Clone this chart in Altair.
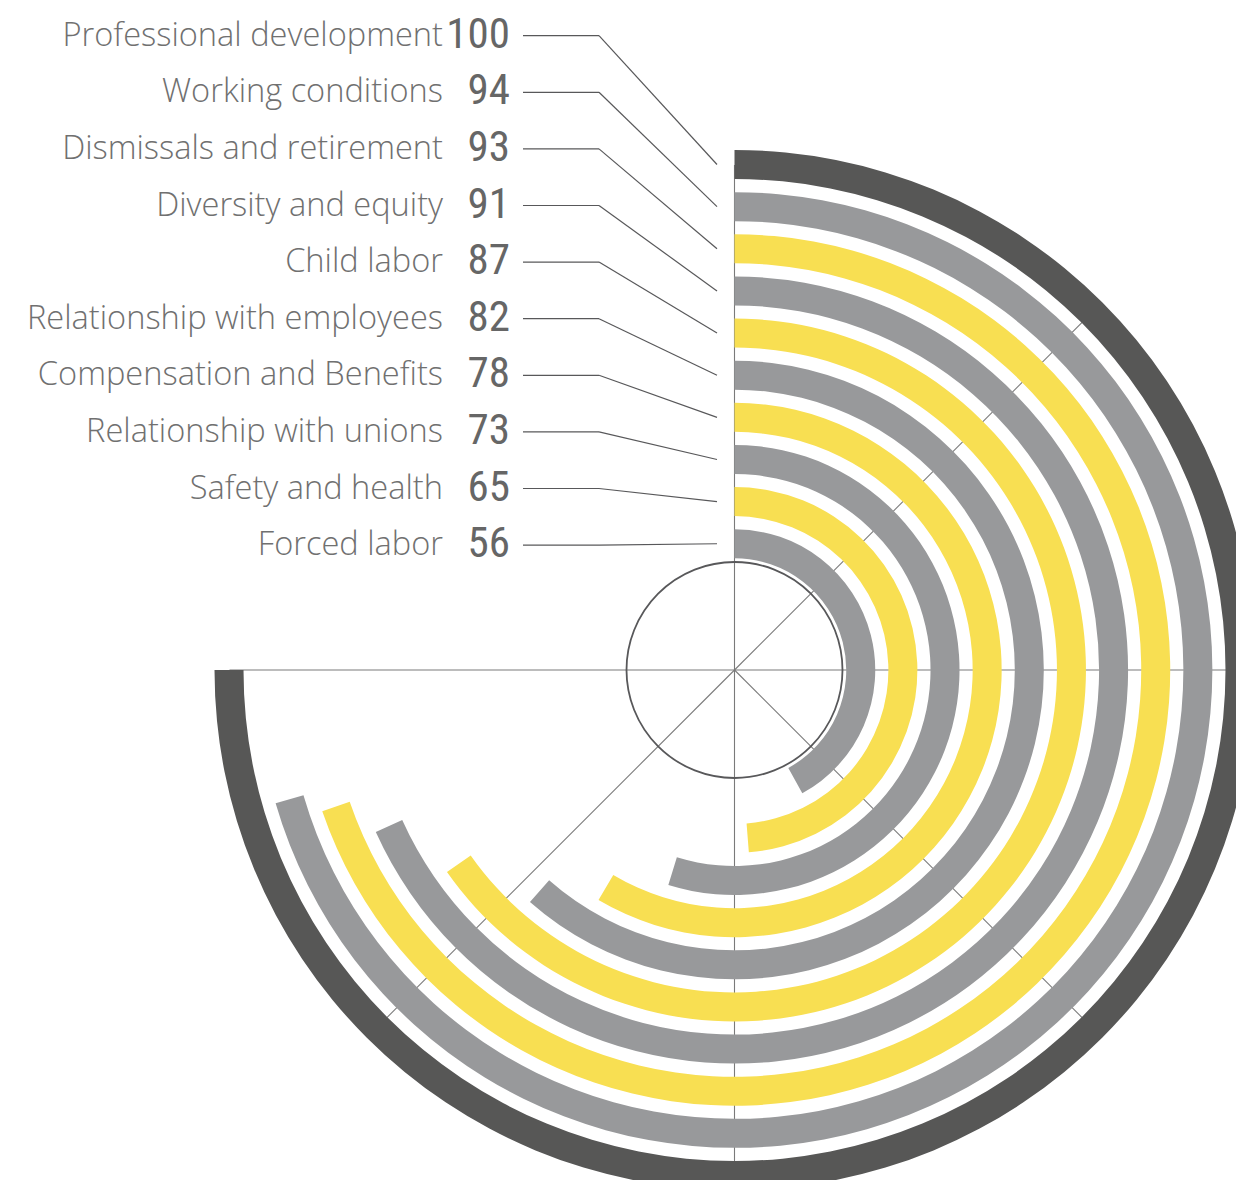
import math
import pandas as pd
import altair as alt

# ---------------- data ----------------
categories = [
    "Professional development",
    "Working conditions",
    "Dismissals and retirement",
    "Diversity and equity",
    "Child labor",
    "Relationship with employees",
    "Compensation and Benefits",
    "Relationship with unions",
    "Safety and health",
    "Forced labor",
]
values = [100, 94, 93, 91, 87, 82, 78, 73, 65, 56]
bar_colors = ["#575756", "#98999b", "#f8df52", "#98999b", "#f8df52",
              "#98999b", "#f8df52", "#98999b", "#f8df52", "#98999b"]
grid_angles = [0, 45, 90, 135, 180, 225, 270]

# ---------------- layout (pixels, relative to the hub centre, y up) ----------------
W, H = 1228, 1172
CX, CY = 726.5, 662.0          # hub centre inside the chart
R_OUT = 520.0                  # outer radius of the outermost ring
GAP = 42.14                    # ring spacing
BAR_W = 29.0                   # ring thickness
HUB_R = 108.0
GRID_LEN = 505.0
LABEL_TOP = CY + 8 - 35.7      # y of first label row (data units)
LABEL_STEP = 56.6
TXT_X = -291.5
NUM_X = -224.5
LEAD_X0, LEAD_X1, LEAD_X2 = -211.5, -135.5, -17.5

NUM_FONT = "'Liberation Sans Narrow', 'Roboto Condensed', 'DejaVu Sans Condensed', 'Arial Narrow', sans-serif"
TXT_FONT = "'Open Sans', Roboto, sans-serif"

x_scale = alt.Scale(type="linear", domain=[-CX, W - CX], range=[0, W])
y_scale = alt.Scale(type="linear", domain=[-(H - CY), CY], range=[H, 0])
r_scale = alt.Scale(type="linear", domain=[0, 9], range=[R_OUT, R_OUT - 9 * GAP], zero=False)
t_scale = alt.Scale(type="linear", domain=[0, 100], range=[0, 1.5 * math.pi], zero=False)

df = pd.DataFrame({"category": categories, "value": values, "rank": list(range(len(values)))})
gdf = pd.DataFrame({"angle": grid_angles})


def X(field):
    return alt.X(field, type="quantitative", scale=x_scale, axis=None)


def Y(field):
    return alt.Y(field, type="quantitative", scale=y_scale, axis=None)


grid = alt.Chart(gdf).transform_calculate(
    ox="0", oy="0",
    gx=f"{GRID_LEN} * sin(datum.angle * PI / 180)",
    gy=f"{GRID_LEN} * cos(datum.angle * PI / 180)",
).mark_rule(color="#7a7a7a", strokeWidth=1.1).encode(
    x=X("ox"), y=Y("oy"), x2=alt.X2("gx"), y2=alt.Y2("gy")
)

hub = alt.Chart(pd.DataFrame({"k": [0]})).transform_calculate(
    ox="0", oy="0",
).mark_arc(
    radius=HUB_R, theta=0, theta2=2 * math.pi,
    filled=False, stroke="#58585a", strokeWidth=1.8,
).encode(x=X("ox"), y=Y("oy"))

bars = alt.Chart(df).transform_calculate(
    ox="0", oy="0", start="0",
    inner=f"datum.rank + {BAR_W / GAP}",
).mark_arc().encode(
    x=X("ox"), y=Y("oy"),
    theta=alt.Theta("start", type="quantitative", stack=None, scale=t_scale),
    theta2=alt.Theta2("value"),
    radius=alt.Radius("rank", type="quantitative", scale=r_scale),
    radius2=alt.Radius2("inner"),
    color=alt.Color("category", type="nominal",
                    scale=alt.Scale(domain=categories, range=bar_colors), legend=None),
)

lab = alt.Chart(df).transform_calculate(
    ly=f"{LABEL_TOP} - datum.rank * {LABEL_STEP}",
    bmid=f"{R_OUT - BAR_W / 2} - datum.rank * {GAP}",
    tx=f"{TXT_X}", nx=f"{NUM_X}",
    l0=f"{LEAD_X0}", l1=f"{LEAD_X1}", l2=f"{LEAD_X2}",
    vtxt="'' + datum.value",
)

names = lab.mark_text(
    align="right", baseline="middle", font=TXT_FONT, fontWeight=300,
    fontSize=32.6, color="#707070",
).encode(x=X("tx"), y=Y("ly"), text=alt.Text("category", type="nominal"))

nums = lab.mark_text(
    align="right", baseline="middle", font=NUM_FONT, fontWeight=400,
    fontSize=43, color="#666666", dy=-1,
).encode(x=X("nx"), y=Y("ly"), text=alt.Text("vtxt", type="nominal"))

lead1 = lab.mark_rule(color="#58585a", strokeWidth=1.2).encode(
    x=X("l0"), x2=alt.X2("l1"), y=Y("ly"), y2=alt.Y2("ly"),
)
lead2 = lab.mark_rule(color="#58585a", strokeWidth=1.2).encode(
    x=X("l1"), x2=alt.X2("l2"), y=Y("ly"), y2=alt.Y2("bmid"),
)

chart = alt.layer(grid, hub, bars, lead1, lead2, names, nums).properties(
    width=W, height=H,
    autosize=alt.AutoSizeParams(type="none"),
    padding=0,
).configure_view(stroke=None)

chart.save("out.html", embed_options={"renderer": "svg", "actions": False})
